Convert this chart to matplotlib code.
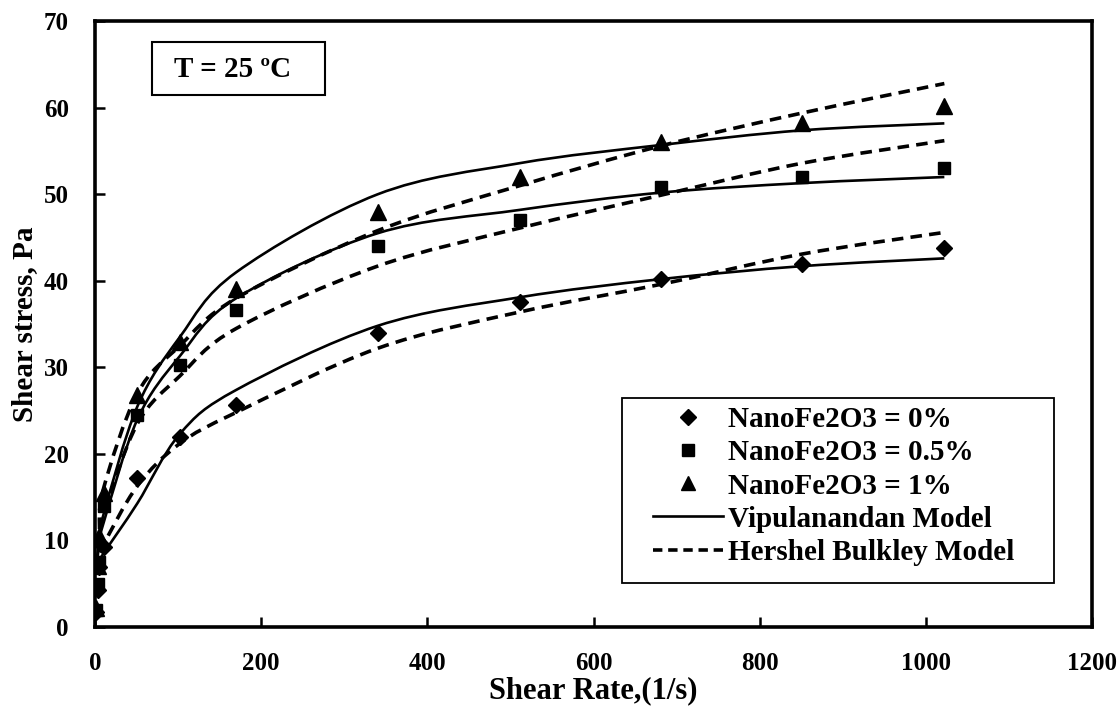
import numpy as np
import matplotlib
matplotlib.use("Agg")
import matplotlib.pyplot as plt
from matplotlib.path import Path
from matplotlib.patches import PathPatch, Rectangle
from matplotlib.lines import Line2D

plt.rcParams['font.family'] = ['Liberation Serif', 'DejaVu Serif']
plt.rcParams['font.weight'] = 'bold'

# ---- data ----
shear_rate = [1, 3, 5.1, 10.2, 51, 102, 170, 340, 511, 681, 851, 1022]
stress_0 = [1.7, 4.3, 6.9, 9.2, 17.2, 21.9, 25.6, 34.0, 37.6, 40.2, 42.0, 43.8]
stress_05 = [2.0, 5.0, 7.5, 14.0, 24.5, 30.3, 36.6, 44.0, 47.0, 50.8, 52.0, 53.0]
stress_1 = [2.2, 7.0, 10.5, 15.5, 26.8, 32.9, 39.1, 48.0, 52.0, 56.0, 58.3, 60.2]

model_rate = [1, 3, 5.1, 10.2, 51, 102, 170, 340, 511, 681, 851, 1022]
vip_0 = [6.5, 7.0, 7.6, 8.5, 14.3, 22.3, 27.4, 34.8, 38.1, 40.2, 41.7, 42.6]
hb_0 = [6.5, 7.3, 8.0, 9.5, 16.3, 21.2, 24.8, 32.2, 36.4, 39.6, 43.1, 45.6]
vip_05 = [7.0, 8.0, 9.5, 12.0, 24.0, 31.3, 38.0, 45.5, 48.2, 50.2, 51.3, 52.0]
hb_05 = [7.0, 8.5, 10.0, 13.0, 23.5, 29.0, 34.5, 41.7, 46.1, 49.9, 53.6, 56.2]
vip_1 = [7.0, 8.5, 10.0, 13.0, 25.5, 33.5, 41.0, 50.0, 53.6, 55.7, 57.4, 58.2]
hb_1 = [7.0, 9.0, 11.0, 16.0, 27.0, 32.5, 38.0, 45.8, 51.0, 55.6, 59.4, 62.8]

series_labels = ['NanoFe2O3 = 0%', 'NanoFe2O3 = 0.5%', 'NanoFe2O3 = 1%']
model_labels = ['Vipulanandan Model', 'Hershel Bulkley Model']
x_ticks = [0, 200, 400, 600, 800, 1000, 1200]
y_ticks = [0, 10, 20, 30, 40, 50, 60, 70]


def smooth_path(xs, ys):
    """Excel-style smoothed line: cubic Bezier through the given points."""
    p = np.column_stack([xs, ys]).astype(float)
    n = len(p)
    verts = [p[0]]
    codes = [Path.MOVETO]
    for i in range(n - 1):
        p0 = p[i - 1] if i > 0 else p[i]
        p1 = p[i]
        p2 = p[i + 1]
        p3 = p[i + 2] if i + 2 < n else p[i + 1]
        c1 = p1 + (p2 - p0) / 6.0
        c2 = p2 - (p3 - p1) / 6.0
        verts += [c1, c2, p2]
        codes += [Path.CURVE4] * 3
    return Path(verts, codes)


fig = plt.figure(figsize=(11.18, 7.09), dpi=100)
ax = fig.add_axes([0.085, 0.1157, 0.892, 0.8543])

dash = (0, (3.2, 2.0))
for vals in (vip_0, vip_05, vip_1):
    ax.add_patch(PathPatch(smooth_path(model_rate, vals), fill=False,
                           edgecolor='black', lw=1.9, zorder=2))
for vals in (hb_0, hb_05, hb_1):
    ax.add_patch(PathPatch(smooth_path(model_rate, vals), fill=False,
                           edgecolor='black', lw=2.6, linestyle=dash, zorder=2))

ax.plot(shear_rate, stress_0, linestyle='none', marker='D', ms=8.5,
        color='black', zorder=3)
ax.plot(shear_rate, stress_05, linestyle='none', marker='s', ms=9,
        color='black', zorder=3)
ax.plot(shear_rate, stress_1, linestyle='none', marker='^', ms=11,
        color='black', zorder=3)

ax.set_xlim(0, 1200)
ax.set_ylim(0, 70)
ax.set_xticks(x_ticks)
ax.set_yticks(y_ticks)
ax.tick_params(direction='in', length=7, width=1.8, labelsize=18)
ax.tick_params(axis='x', pad=18)
ax.tick_params(axis='y', pad=19)
for lab in ax.get_xticklabels() + ax.get_yticklabels():
    lab.set_fontweight('bold')
for sp in ax.spines.values():
    sp.set_linewidth(2.6)

ax.set_xlabel('Shear Rate,(1/s)', fontsize=22, fontweight='bold', labelpad=1)
ax.set_ylabel('Shear stress, Pa', fontsize=21, fontweight='bold', labelpad=4)

# temperature box
ax.add_patch(Rectangle((0.0572, 0.878), 0.1735, 0.0875, transform=ax.transAxes,
                       fill=False, edgecolor='black', lw=1.5, zorder=4))
ax.text(0.138, 0.921, 'T = 25 ºC', transform=ax.transAxes, ha='center',
        va='center', fontsize=21, fontweight='bold')

# legend frame
ax.add_patch(Rectangle((0.5286, 0.0726), 0.4334, 0.3053, transform=ax.transAxes,
                       facecolor='white', edgecolor='black', lw=1.3, zorder=5))

handles = [
    Line2D([], [], linestyle='none', marker='D', ms=8, color='black'),
    Line2D([], [], linestyle='none', marker='s', ms=8.5, color='black'),
    Line2D([], [], linestyle='none', marker='^', ms=10, color='black'),
    Line2D([], [], color='black', lw=1.9),
    Line2D([], [], color='black', lw=2.6, linestyle=(0, (2.6, 1.6))),
]
leg = ax.legend(handles, series_labels + model_labels, loc='center left',
                bbox_to_anchor=(0.5597, 0.2327), frameon=False,
                prop={'family': 'Liberation Serif', 'weight': 'bold', 'size': 21},
                handlelength=2.4, handletextpad=0.17, labelspacing=0.21,
                borderpad=0.0, borderaxespad=0.0)
leg.set_zorder(6)

fig.savefig('out.png', dpi=100)
